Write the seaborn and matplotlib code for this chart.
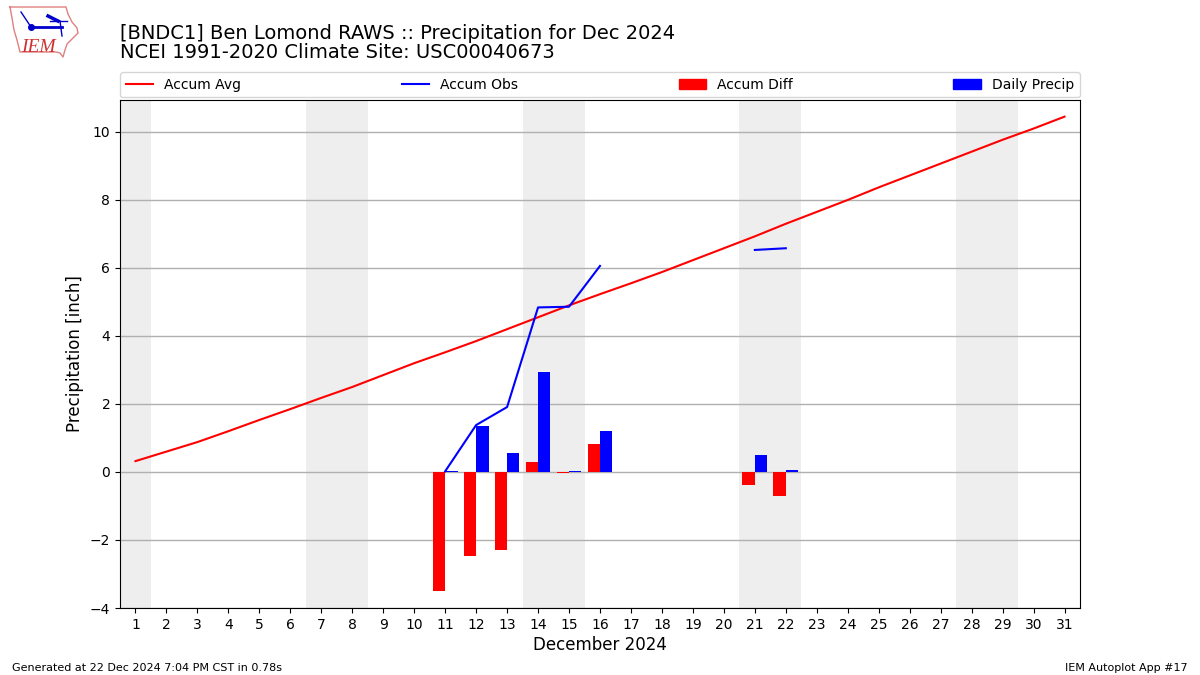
import numpy as np
import pandas as pd
import matplotlib
matplotlib.use('Agg')
import matplotlib.pyplot as plt
import seaborn as sns

##valores
days = list(range(1, 32))
accum_avg = [0.32, 0.60, 0.88, 1.20, 1.53, 1.85, 2.18, 2.50, 2.85, 3.20, 3.52,
             3.85, 4.20, 4.55, 4.90, 5.23, 5.55, 5.88, 6.23, 6.58, 6.93, 7.30,
             7.65, 8.00, 8.37, 8.72, 9.07, 9.42, 9.77, 10.10, 10.45]

obs_days_1 = [11, 12, 13, 14, 15, 16]
obs_vals_1 = [0.02, 1.38, 1.91, 4.84, 4.86, 6.06]
obs_days_2 = [21, 22]
obs_vals_2 = [6.53, 6.58]

bar_days = [11, 12, 13, 14, 15, 16, 21, 22]
accum_diff = [-3.50, -2.47, -2.29, 0.29, -0.04, 0.82, -0.38, -0.71]
daily_precip = [0.03, 1.35, 0.55, 2.94, 0.03, 1.20, 0.50, 0.05]

weekends = [(0.5, 1.5), (6.5, 8.5), (13.5, 15.5), (20.5, 22.5), (27.5, 29.5)]

##tabla larga para las barras
bars = pd.DataFrame({
    'day': bar_days * 2,
    'value': accum_diff + daily_precip,
    'series': ['Accum Diff'] * len(bar_days) + ['Daily Precip'] * len(bar_days),
})

fig = plt.figure(figsize=(12, 6.75), dpi=100)
ax = fig.add_axes([0.1, 1 - 608 / 675, 0.8, 508 / 675])

for start, end in weekends:
    ax.axvspan(start, end, color='#eeeeee', lw=0, zorder=0)

sns.barplot(data=bars, x='day', y='value', hue='series', native_scale=True,
            palette={'Accum Diff': 'r', 'Daily Precip': 'b'}, width=0.8, gap=0,
            saturation=1, errorbar=None, ax=ax, zorder=3, legend=False)
sns.lineplot(x=days, y=accum_avg, color='r', lw=1.5, ax=ax, zorder=4)
sns.lineplot(x=obs_days_1, y=obs_vals_1, color='b', lw=1.5, ax=ax, zorder=4)
sns.lineplot(x=obs_days_2, y=obs_vals_2, color='b', lw=1.5, ax=ax, zorder=4)

ax.set_xlim(0.5, 31.5)
ax.set_ylim(-4, 10.94)
ax.set_xticks(days)
ax.set_xticklabels([str(d) for d in days])
ax.grid(axis='y', color='#b0b0b0', lw=1)
ax.set_axisbelow(True)
ax.set_xlabel('December 2024', fontsize=12, labelpad=3)
ax.set_ylabel('Precipitation [inch]', fontsize=12)

##leyenda arriba, de lado a lado
handles = [plt.Line2D([], [], color='r', lw=1.5),
           plt.Line2D([], [], color='b', lw=1.5),
           plt.Rectangle((0, 0), 1, 1, color='r'),
           plt.Rectangle((0, 0), 1, 1, color='b')]
labels = ['Accum Avg', 'Accum Obs', 'Accum Diff', 'Daily Precip']
ax.legend(handles, labels, loc='lower left', bbox_to_anchor=(0, 1.005, 1, 0.05),
          ncol=4, mode='expand', borderaxespad=0, fontsize=10)

fig.text(120 / 1200, 1 - 62 / 675, '[BNDC1] Ben Lomond RAWS :: Precipitation for Dec 2024\n'
         'NCEI 1991-2020 Climate Site: USC00040673', fontsize=14, ha='left', va='bottom',
         linespacing=1.0)
fig.text(12 / 1200, 1 - 671 / 675, 'Generated at 22 Dec 2024 7:04 PM CST in 0.78s', fontsize=8)
fig.text(1188 / 1200, 1 - 671 / 675, 'IEM Autoplot App #17', fontsize=8, ha='right')

##logo IEM dibujado a mano
logo = fig.add_axes([0, 1 - 60 / 675, 85 / 1200, 60 / 675])
logo.set_xlim(0, 85)
logo.set_ylim(60, 0)
logo.axis('off')
outline_x = [10, 66, 68, 72, 77, 78, 70, 67, 65, 63, 60, 56, 20, 17, 14, 12, 10]
outline_y = [7, 7, 14, 22, 28, 33, 41, 44, 50, 57, 53, 52, 52, 40, 30, 18, 7]
logo.plot(outline_x, outline_y, color='#e08080', lw=1)
logo.plot([31, 62], [27, 27], color='#0000cc', lw=2)
logo.plot([21, 31], [12, 27], color='#0000cc', lw=1)
logo.plot([31], [27], 'o', color='#0000cc', ms=4)
logo.plot([48, 58], [16, 21], color='#0000cc', lw=2.5)
logo.plot([50, 67], [21, 21], color='#0000cc', lw=1)
logo.plot([60, 62], [21, 36], color='#0000cc', lw=1)
logo.text(21, 52, 'IEM', color='#d03030', fontsize=14, family='Liberation Serif', style='italic')

fig.savefig('out.png', dpi=100)
